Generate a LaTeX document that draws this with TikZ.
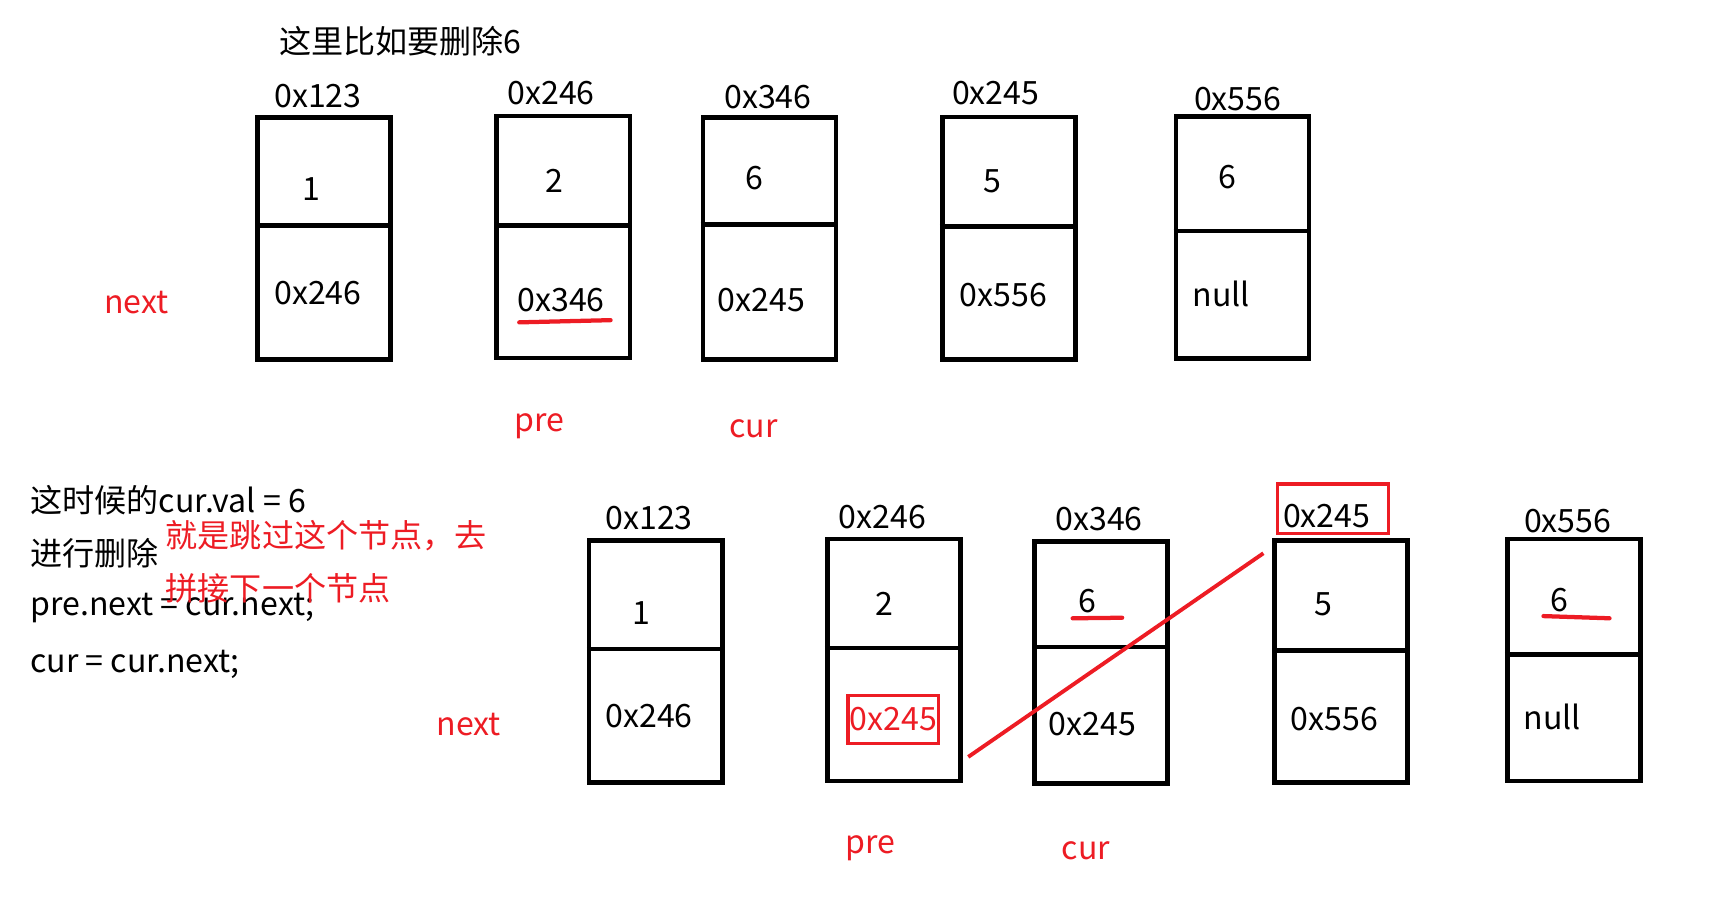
\documentclass[tikz,border=0pt]{standalone}
\usepackage{fontspec}
\setmainfont{Noto Sans CJK SC}
\definecolor{hlred}{RGB}{237,28,36}

\begin{document}
\begin{tikzpicture}[
		font=\fontsize{8.3pt}{10pt}\selectfont,
		cell/.style={draw, line width=1.2pt, minimum width=1.21cm,
			minimum height=2.2cm, inner sep=0pt},
		sep/.style={line width=1.2pt},
		txt/.style={inner sep=0pt},
		note/.style={inner sep=0pt, text=hlred},
		hl/.style={draw=hlred, line width=0.9pt, inner sep=0pt},
		uline/.style={draw=hlred, line width=1.1pt, line cap=round},
		redline/.style={draw=hlred, line width=1pt},
	]
		\useasboundingbox (0,0) rectangle (15.68,-8.19);

		% Überschrift
		\node[txt] (title) at (3.64,-0.37) {这里比如要删除6};

		% Liste vorher (oben)
		\node[cell] (a1) at (2.945,-2.17) {};
		\node[cell] (a2) at (5.12,-2.155) {};
		\node[cell] (a3) at (6.995,-2.17) {};
		\node[cell] (a4) at (9.17,-2.165) {};
		\node[cell] (a5) at (11.295,-2.16) {};

		\draw[sep] (a1.west |- 0,-2.05) -- (a1.east |- 0,-2.05);
		\draw[sep] (a2.west |- 0,-2.05) -- (a2.east |- 0,-2.05);
		\draw[sep] (a3.west |- 0,-2.04) -- (a3.east |- 0,-2.04);
		\draw[sep] (a4.west |- 0,-2.06) -- (a4.east |- 0,-2.06);
		\draw[sep] (a5.west |- 0,-2.10) -- (a5.east |- 0,-2.10);

		\node[txt] (a1adr) at (2.89,-0.87) {0x123};
		\node[txt] (a2adr) at (5.01,-0.85) {0x246};
		\node[txt] (a3adr) at (6.98,-0.88) {0x346};
		\node[txt] (a4adr) at (9.05,-0.85) {0x245};
		\node[txt] (a5adr) at (11.25,-0.90) {0x556};

		\node[txt] (a1val) at (2.83,-1.72) {1};
		\node[txt] (a2val) at (5.04,-1.64) {2};
		\node[txt] (a3val) at (6.86,-1.62) {6};
		\node[txt] (a4val) at (9.02,-1.65) {5};
		\node[txt] (a5val) at (11.16,-1.61) {6};

		\node[txt] (a1nxt) at (2.89,-2.66) {0x246};
		\node[txt] (a2nxt) at (5.10,-2.73) {0x346};
		\node[txt] (a3nxt) at (6.92,-2.73) {0x245};
		\node[txt] (a4nxt) at (9.12,-2.68) {0x556};
		\node[txt] (a5nxt) at (11.10,-2.67) {null};

		\draw[uline] (4.72,-2.93) -- (5.55,-2.91);

		\node[note] (nextA) at (1.24,-2.75) {next};
		\node[note] (preA) at (4.90,-3.87) {pre};
		\node[note] (curA) at (6.85,-3.90) {cur};

		% Erklärung links
		\node[txt, anchor=west] (t1) at (0.27,-4.55) {这时候的cur.val = 6};
		\node[txt, anchor=west] (t2) at (0.27,-5.03) {进行删除};
		\node[txt, anchor=west] (t3) at (0.27,-5.53) {pre.next = cur.next;};
		\node[txt, anchor=west] (t4) at (0.27,-6.04) {cur = cur.next;};
		\node[note, anchor=west] (n1) at (1.50,-4.87) {就是跳过这个节点，去};
		\node[note, anchor=west] (n2) at (1.50,-5.35) {拼接下一个节点};

		% Liste beim Löschen (unten)
		\node[cell] (b1) at (5.96,-6.01) {};
		\node[cell] (b2) at (8.125,-6.00) {};
		\node[cell] (b3) at (10.01,-6.02) {};
		\node[cell] (b4) at (12.19,-6.01) {};
		\node[cell] (b5) at (14.305,-6.00) {};

		\draw[sep] (b1.west |- 0,-5.90) -- (b1.east |- 0,-5.90);
		\draw[sep] (b2.west |- 0,-5.89) -- (b2.east |- 0,-5.89);
		\draw[sep] (b3.west |- 0,-5.88) -- (b3.east |- 0,-5.88);
		\draw[sep] (b4.west |- 0,-5.91) -- (b4.east |- 0,-5.91);
		\draw[sep] (b5.west |- 0,-5.95) -- (b5.east |- 0,-5.95);

		\node[txt] (b1adr) at (5.90,-4.71) {0x123};
		\node[txt] (b2adr) at (8.02,-4.70) {0x246};
		\node[txt] (b3adr) at (9.99,-4.72) {0x346};
		\node[txt] (b4adr) at (12.06,-4.69) {0x245};
		\node[txt] (b5adr) at (14.25,-4.74) {0x556};
		\node[hl, minimum width=1.01cm, minimum height=0.45cm] (b4hl) at (12.115,-4.625) {};

		\node[txt] (b1val) at (5.83,-5.57) {1};
		\node[txt] (b2val) at (8.04,-5.49) {2};
		\node[txt] (b3val) at (9.88,-5.46) {6};
		\node[txt] (b4val) at (12.03,-5.49) {5};
		\node[txt] (b5val) at (14.17,-5.45) {6};

		\node[txt] (b1nxt) at (5.90,-6.51) {0x246};
		\node[hl, text=hlred, minimum width=0.82cm, minimum height=0.44cm] (b2nxt) at (8.12,-6.54) {0x245};
		\node[txt] (b3nxt) at (9.93,-6.58) {0x245};
		\node[txt] (b4nxt) at (12.13,-6.54) {0x556};
		\node[txt] (b5nxt) at (14.11,-6.52) {null};

		\draw[uline] (9.75,-5.62) -- (10.20,-5.615);
		\draw[uline] (14.03,-5.60) -- (14.63,-5.62);

		\node[note] (nextB) at (4.26,-6.59) {next};
		\node[note] (preB) at (7.91,-7.71) {pre};
		\node[note] (curB) at (9.87,-7.73) {cur};

		% neue Verbindung pre -> cur.next
		\draw[redline] ([shift={(0.05,-0.88)}]b2.east) -- ([shift={(-0.08,-0.14)}]b4.north west);
	\end{tikzpicture}
\end{document}
